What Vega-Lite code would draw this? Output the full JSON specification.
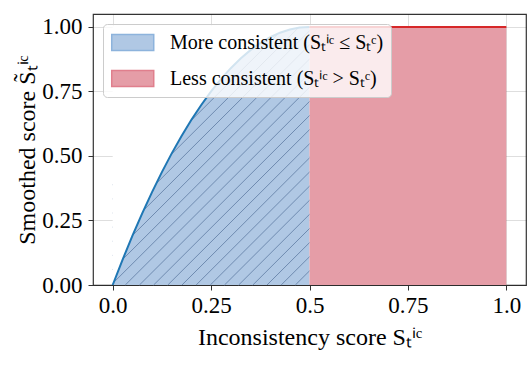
{
  "$schema": "https://vega.github.io/schema/vega-lite/v6.json",
  "width": 433,
  "height": 271,
  "autosize": {"type": "none"},
  "padding": {"left": 93, "top": 14, "right": 1, "bottom": 83},
  "background": "white",
  "datasets": {
    "regions": [
      {"x": 0, "y": 0, "series": "more", "label": "More consistent (Sₜⁱᶜ ≤ Sₜᶜ)"},
      {"x": 0.025, "y": 0.0975, "series": "more", "label": "More consistent (Sₜⁱᶜ ≤ Sₜᶜ)"},
      {"x": 0.05, "y": 0.19, "series": "more", "label": "More consistent (Sₜⁱᶜ ≤ Sₜᶜ)"},
      {"x": 0.075, "y": 0.2775, "series": "more", "label": "More consistent (Sₜⁱᶜ ≤ Sₜᶜ)"},
      {"x": 0.1, "y": 0.36, "series": "more", "label": "More consistent (Sₜⁱᶜ ≤ Sₜᶜ)"},
      {"x": 0.125, "y": 0.4375, "series": "more", "label": "More consistent (Sₜⁱᶜ ≤ Sₜᶜ)"},
      {"x": 0.15, "y": 0.51, "series": "more", "label": "More consistent (Sₜⁱᶜ ≤ Sₜᶜ)"},
      {"x": 0.175, "y": 0.5775, "series": "more", "label": "More consistent (Sₜⁱᶜ ≤ Sₜᶜ)"},
      {"x": 0.2, "y": 0.64, "series": "more", "label": "More consistent (Sₜⁱᶜ ≤ Sₜᶜ)"},
      {"x": 0.225, "y": 0.6975, "series": "more", "label": "More consistent (Sₜⁱᶜ ≤ Sₜᶜ)"},
      {"x": 0.25, "y": 0.75, "series": "more", "label": "More consistent (Sₜⁱᶜ ≤ Sₜᶜ)"},
      {"x": 0.275, "y": 0.7975, "series": "more", "label": "More consistent (Sₜⁱᶜ ≤ Sₜᶜ)"},
      {"x": 0.3, "y": 0.84, "series": "more", "label": "More consistent (Sₜⁱᶜ ≤ Sₜᶜ)"},
      {"x": 0.325, "y": 0.8775, "series": "more", "label": "More consistent (Sₜⁱᶜ ≤ Sₜᶜ)"},
      {"x": 0.35, "y": 0.91, "series": "more", "label": "More consistent (Sₜⁱᶜ ≤ Sₜᶜ)"},
      {"x": 0.375, "y": 0.9375, "series": "more", "label": "More consistent (Sₜⁱᶜ ≤ Sₜᶜ)"},
      {"x": 0.4, "y": 0.96, "series": "more", "label": "More consistent (Sₜⁱᶜ ≤ Sₜᶜ)"},
      {"x": 0.425, "y": 0.9775, "series": "more", "label": "More consistent (Sₜⁱᶜ ≤ Sₜᶜ)"},
      {"x": 0.45, "y": 0.99, "series": "more", "label": "More consistent (Sₜⁱᶜ ≤ Sₜᶜ)"},
      {"x": 0.475, "y": 0.9975, "series": "more", "label": "More consistent (Sₜⁱᶜ ≤ Sₜᶜ)"},
      {"x": 0.5, "y": 1.0, "series": "more", "label": "More consistent (Sₜⁱᶜ ≤ Sₜᶜ)"},
      {"x": 0.5, "y": 1.0, "series": "less", "label": "Less consistent (Sₜⁱᶜ > Sₜᶜ)"},
      {"x": 1.0, "y": 1.0, "series": "less", "label": "Less consistent (Sₜⁱᶜ > Sₜᶜ)"}
    ],
    "hatch": [
      {"x": 0.464, "y": 0, "x2": 0.5, "y2": 0.0547},
      {"x": 0.428, "y": 0, "x2": 0.5, "y2": 0.1094},
      {"x": 0.392, "y": 0, "x2": 0.5, "y2": 0.1641},
      {"x": 0.356, "y": 0, "x2": 0.5, "y2": 0.2188},
      {"x": 0.32, "y": 0, "x2": 0.5, "y2": 0.2736},
      {"x": 0.284, "y": 0, "x2": 0.5, "y2": 0.3283},
      {"x": 0.248, "y": 0, "x2": 0.5, "y2": 0.383},
      {"x": 0.212, "y": 0, "x2": 0.5, "y2": 0.4377},
      {"x": 0.176, "y": 0, "x2": 0.5, "y2": 0.4924},
      {"x": 0.14, "y": 0, "x2": 0.5, "y2": 0.5471},
      {"x": 0.104, "y": 0, "x2": 0.5, "y2": 0.6018},
      {"x": 0.068, "y": 0, "x2": 0.5, "y2": 0.6565},
      {"x": 0.032, "y": 0, "x2": 0.5, "y2": 0.7112},
      {"x": 0, "y": 0.0061, "x2": 0.5, "y2": 0.766},
      {"x": 0, "y": 0.0608, "x2": 0.5, "y2": 0.8207},
      {"x": 0, "y": 0.1155, "x2": 0.5, "y2": 0.8754},
      {"x": 0, "y": 0.1702, "x2": 0.5, "y2": 0.9301},
      {"x": 0, "y": 0.2249, "x2": 0.5, "y2": 0.9848},
      {"x": 0, "y": 0.2796, "x2": 0.474, "y2": 1.0},
      {"x": 0, "y": 0.3343, "x2": 0.438, "y2": 1.0},
      {"x": 0, "y": 0.3891, "x2": 0.402, "y2": 1.0}
    ]
  },
  "layer": [
    {
      "data": {"name": "regions"},
      "mark": {"type": "area", "opacity": 1},
      "encoding": {
        "x": {"field": "x", "type": "quantitative", "scale": {"domain": [-0.05, 1.05], "nice": false, "zero": false},
          "axis": {"values": [0, 0.25, 0.5, 0.75, 1.0], "labelExpr": "datum.value == 0 ? '0.0' : datum.value == 1 ? '1.0' : datum.value == 0.5 ? '0.5' : format(datum.value, '.2f')", "title": "Inconsistency score Sₜⁱᶜ", "labelPadding": 4, "titlePadding": 8}},
        "y": {"field": "y", "type": "quantitative", "stack": null, "scale": {"domain": [0, 1.05], "nice": false, "zero": false},
          "axis": {"values": [0, 0.25, 0.5, 0.75, 1.0], "format": ".2f", "title": "Smoothed score S̃ₜⁱᶜ", "labelPadding": 6, "titlePadding": 2}},
        "fill": {"field": "label", "type": "nominal",
          "scale": {"domain": ["More consistent (Sₜⁱᶜ ≤ Sₜᶜ)", "Less consistent (Sₜⁱᶜ > Sₜᶜ)"], "range": ["#b0c8e4", "#e59da7"]},
          "legend": {
            "title": null,
            "orient": "none",
            "legendX": 10,
            "legendY": 10,
            "zindex": 2,
            "encode": {"symbols": {"update": {
              "stroke": {"signal": "indexof(datum.value, 'More') == 0 ? '#8db3dc' : '#e07f8d'"},
              "strokeWidth": {"value": 1.5}
            }}}
          }},
        "detail": {"field": "series"}
      }
    },
    {
      "data": {"name": "hatch"},
      "mark": {"type": "rule", "color": "#6f8bb0", "strokeWidth": 1},
      "encoding": {
        "x": {"field": "x", "type": "quantitative"},
        "y": {"field": "y", "type": "quantitative"},
        "x2": {"field": "x2"},
        "y2": {"field": "y2"}
      }
    },
    {
      "data": {"name": "regions"},
      "transform": [{"filter": "datum.series == 'more'"}],
      "mark": {"type": "area", "color": "white", "opacity": 1},
      "encoding": {
        "x": {"field": "x", "type": "quantitative"},
        "y": {"field": "y", "type": "quantitative", "stack": null},
        "y2": {"datum": 1.003}
      }
    },
    {
      "data": {"name": "regions"},
      "transform": [{"filter": "datum.series == 'more'"}],
      "mark": {"type": "line", "color": "#1f77b4", "strokeWidth": 2},
      "encoding": {
        "x": {"field": "x", "type": "quantitative"},
        "y": {"field": "y", "type": "quantitative"}
      }
    },
    {
      "data": {"name": "regions"},
      "transform": [{"filter": "datum.series == 'less'"}],
      "mark": {"type": "line", "color": "#d62728", "strokeWidth": 2},
      "encoding": {
        "x": {"field": "x", "type": "quantitative"},
        "y": {"field": "y", "type": "quantitative"}
      }
    }
  ],
  "config": {
    "view": {"stroke": "#333333", "strokeWidth": 1.2},
    "font": "Liberation Serif",
    "axis": {
      "labelFont": "Liberation Serif",
      "titleFont": "Liberation Serif",
      "labelFontSize": 23,
      "titleFontSize": 24,
      "titleFontWeight": "normal",
      "labelColor": "#000000",
      "titleColor": "#000000",
      "tickColor": "#333333",
      "tickSize": 5,
      "tickWidth": 1,
      "domain": false,
      "grid": true,
      "gridColor": "#000000",
      "gridOpacity": 0.13,
      "zindex": 1
    },
    "legend": {
      "labelFont": "Liberation Serif",
      "labelFontSize": 20,
      "labelColor": "#000000",
      "labelLimit": 500,
      "fillColor": "rgba(255,255,255,0.8)",
      "strokeColor": "#cccccc",
      "cornerRadius": 4,
      "padding": 7,
      "rowPadding": 13,
      "labelOffset": 37,
      "symbolSize": 441,
      "symbolType": "M-0.93,-0.762H3.07V0.762H-0.93Z",
      "symbolOpacity": 1
    }
  }
}
